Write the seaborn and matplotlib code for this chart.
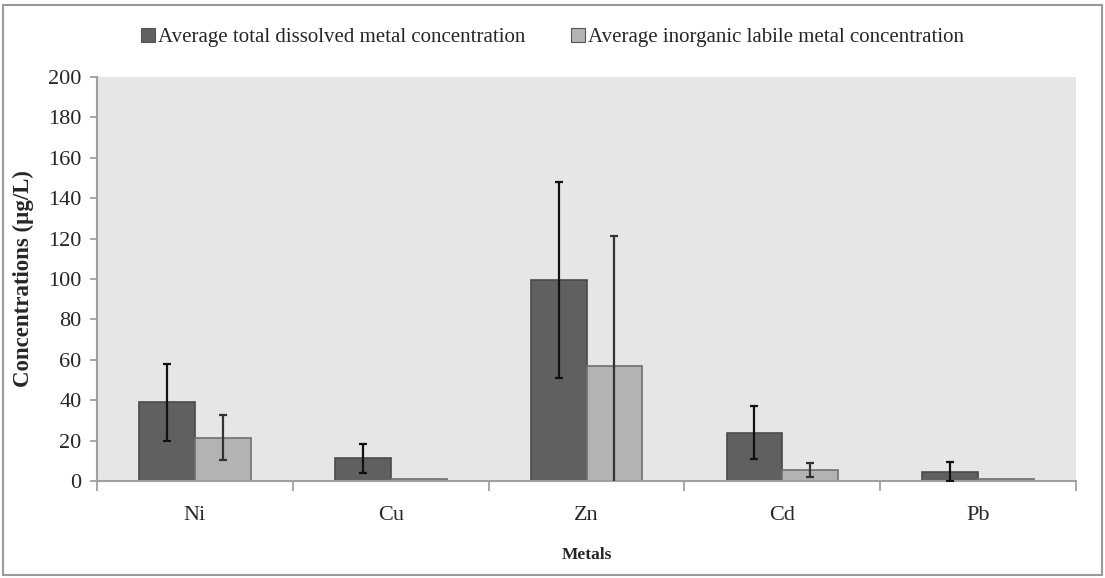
import matplotlib
matplotlib.use("Agg")
import matplotlib.pyplot as plt
from matplotlib.patches import Rectangle
from matplotlib.container import BarContainer
from matplotlib.ticker import FixedLocator
import seaborn as sns
import pandas as pd
import numpy as np

metals = ["Ni", "Cu", "Zn", "Cd", "Pb"]
series = ["Average total dissolved metal concentration",
          "Average inorganic labile metal concentration"]
total_mean = [39.0, 11.2, 99.5, 24.0, 4.6]
total_err = [19.0, 7.0, 48.5, 13.3, 4.8]
labile_mean = [21.4, 1.0, 56.9, 5.3, 1.0]
labile_err = [11.2, 0.0, 64.4, 3.4, 0.0]

df = pd.DataFrame({
    "Metal": metals * 2,
    "Series": [series[0]] * len(metals) + [series[1]] * len(metals),
    "Value": total_mean + labile_mean,
    "Err": total_err + labile_err,
})

sns.set_theme(style="white")
plt.rcParams["font.family"] = ["Liberation Serif", "DejaVu Serif"]

fig = plt.figure(figsize=(11.05, 5.78), dpi=100)
ax = fig.add_axes([0.0878, 0.1678, 0.9738 - 0.0878, 0.8668 - 0.1678])
ax.set_facecolor("#e6e6e6")

palette = {series[0]: "#606060", series[1]: "#b3b3b3"}
sns.barplot(data=df, x="Metal", y="Value", hue="Series", order=metals,
            hue_order=series, palette=palette, width=0.57, errorbar=None,
            saturation=1, ax=ax, legend=True)

edge_cols = ["#4a4a4a", "#707070"]
err_cols = ["#111111", "#333333"]
bar_groups = [c for c in ax.containers if isinstance(c, BarContainer)]
for i, container in enumerate(bar_groups):
    errs = np.array(total_err if i == 0 else labile_err)
    vals = np.array(total_mean if i == 0 else labile_mean)
    xs = []
    for bar in container.patches:
        bar.set_edgecolor(edge_cols[i])
        bar.set_linewidth(1.2)
        xs.append(bar.get_x() + bar.get_width() / 2)
    xs = np.array(xs)
    mask = errs > 0
    ax.errorbar(xs[mask], vals[mask], yerr=errs[mask],
                fmt="none", ecolor=err_cols[i], elinewidth=1.6, capsize=2.9,
                capthick=1.6, zorder=5)

ax.set_xlim(-0.5, 4.5)
ax.set_ylim(0, 200)
ax.set_yticks(np.arange(0, 201, 20))
ax.tick_params(axis="y", which="major", direction="out", length=5,
               color="#999999", width=1.2, labelsize=16, pad=6,
               left=True)
ax.xaxis.set_minor_locator(FixedLocator(np.arange(-0.5, 4.6, 1.0)))
ax.tick_params(axis="x", which="major", length=0, labelsize=16, pad=18)
ax.tick_params(axis="x", which="minor", direction="out", length=7,
               color="#999999", width=1.2, bottom=True)

for side in ["top", "right"]:
    ax.spines[side].set_visible(False)
for side in ["left", "bottom"]:
    ax.spines[side].set_color("#a0a0a0")
    ax.spines[side].set_linewidth(1.5)

ax.set_xlabel("Metals", fontsize=12.5, fontweight="bold", labelpad=16)
ax.set_ylabel("Concentrations (µg/L)", fontsize=16.5, fontweight="bold",
              labelpad=10)

handles, labels = ax.get_legend_handles_labels()
for h in handles:
    h.set_edgecolor("#555555")
    h.set_linewidth(0.8)
ax.legend(handles, labels, loc="center", bbox_to_anchor=(0.5, 0.935),
          bbox_transform=fig.transFigure, ncol=2, frameon=False,
          fontsize=15, handlelength=0.65, handleheight=0.65,
          handletextpad=0.15, columnspacing=2.2)

fig.patches.append(Rectangle((0.003, 0.005), 0.994, 0.986,
                             transform=fig.transFigure, fill=False,
                             edgecolor="#9a9a9a", linewidth=1.5))

fig.savefig("out.png", dpi=100)
